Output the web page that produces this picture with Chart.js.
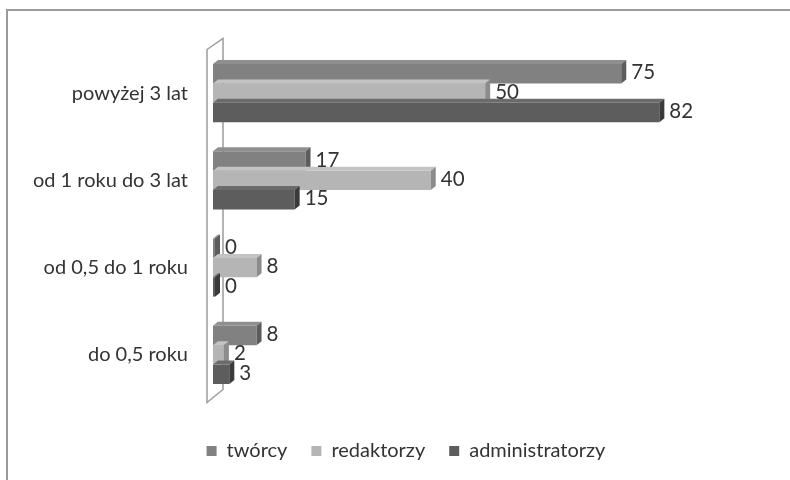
<!DOCTYPE html>
<html><head><meta charset="utf-8">
<script src="https://cdn.jsdelivr.net/npm/chart.js@4"></script>
<style>
html,body{margin:0;padding:0;background:#fff}
#wrap{position:relative;width:790px;height:480px;overflow:hidden}
#frame{position:absolute;left:6px;top:9px;right:-4px;bottom:-4px;border-top:2px solid #9a9a9a;border-left:2px solid #9a9a9a}
canvas{position:absolute;left:0;top:0}
</style></head><body>
<div id="wrap"><div id="frame"></div><canvas id="c" width="790" height="480"></canvas></div>
<script>
const categories = ['powyżej 3 lat', 'od 1 roku do 3 lat', 'od 0,5 do 1 roku', 'do 0,5 roku'];
const seriesNames = ['twórcy', 'redaktorzy', 'administratorzy'];
const tworcy = [75, 17, 0, 8];
const redaktorzy = [50, 40, 8, 2];
const administratorzy = [82, 15, 0, 3];

const frontColors = ['#818181', '#b5b5b5', '#5d5d5d'];
const sideColors = ['#5c5c5c', '#8c8c8c', '#3a3a3a'];
const topColors = ['#8f8f8f', '#c3c3c3', '#6b6b6b'];
const FONT = 'Lato, "Open Sans", sans-serif';
const TEXT = '#333333';
const DX = 5, DY = 4;

const wallPlugin = {
  id: 'wall',
  beforeDatasetsDraw(chart) {
    const a = chart.chartArea, ctx = chart.ctx;
    ctx.save();
    ctx.strokeStyle = '#9c9c9c';
    ctx.lineWidth = 1.5;
    ctx.beginPath();
    ctx.moveTo(a.left - 6, a.top);
    ctx.lineTo(a.left + 10, a.top - 11);
    ctx.lineTo(a.left + 10, a.bottom - 9);
    ctx.lineTo(a.left - 6, a.bottom + 4);
    ctx.closePath();
    ctx.stroke();
    ctx.restore();
  }
};

const depthPlugin = {
  id: 'depth',
  afterDatasetsDraw(chart) {
    const ctx = chart.ctx;
    const n = chart.data.labels.length;
    ctx.save();
    for (let i = 0; i < n; i++) {
      chart.data.datasets.forEach((ds, d) => {
        const el = chart.getDatasetMeta(d).data[i];
        const {x, y, base, height} = el.getProps(['x', 'y', 'base', 'height'], true);
        const t = y - height / 2, b = y + height / 2;
        const xe = Math.max(x, base + 2);
        ctx.fillStyle = topColors[d];
        ctx.beginPath();
        ctx.moveTo(base, t); ctx.lineTo(xe, t); ctx.lineTo(xe + DX, t - DY); ctx.lineTo(base + DX, t - DY);
        ctx.closePath(); ctx.fill();
        ctx.fillStyle = sideColors[d];
        ctx.beginPath();
        ctx.moveTo(xe, t); ctx.lineTo(xe + DX, t - DY); ctx.lineTo(xe + DX, b - DY); ctx.lineTo(xe, b);
        ctx.closePath(); ctx.fill();
        if (x <= base + 0.5) {
          ctx.fillStyle = frontColors[d];
          ctx.fillRect(base, t, 2, height);
        }
      });
    }
    ctx.font = '20.5px ' + FONT;
    ctx.fillStyle = TEXT;
    ctx.textBaseline = 'middle';
    ctx.textAlign = 'left';
    chart.data.datasets.forEach((ds, d) => {
      chart.getDatasetMeta(d).data.forEach((el, i) => {
        const {x, y, base} = el.getProps(['x', 'y', 'base'], true);
        const xe = Math.max(x, base + 2);
        ctx.fillText(String(ds.data[i]), xe + DX + 5, y - 1);
      });
    });
    ctx.restore();
  }
};

new Chart(document.getElementById('c'), {
  type: 'bar',
  data: {
    labels: categories,
    datasets: [
      {label: seriesNames[0], data: tworcy, backgroundColor: frontColors[0]},
      {label: seriesNames[1], data: redaktorzy, backgroundColor: frontColors[1]},
      {label: seriesNames[2], data: administratorzy, backgroundColor: frontColors[2]}
    ]
  },
  options: {
    indexAxis: 'y',
    responsive: false,
    animation: false,
    barPercentage: 1,
    categoryPercentage: 0.665,
    layout: {padding: {top: 49.5, right: 0, left: 22, bottom: 9}},
    scales: {
      x: {
        min: 0, max: 106,
        grid: {display: false, drawTicks: false},
        border: {display: false},
        ticks: {display: false},
        afterFit(s) { s.height = 18.5; }
      },
      y: {
        grid: {display: false, drawTicks: false},
        border: {display: false},
        ticks: {font: {family: FONT, size: 20}, color: TEXT, padding: 25},
        afterFit(s) { s.width = 191; }
      }
    },
    plugins: {
      legend: {
        position: 'bottom',
        labels: {
          font: {family: FONT, size: 20},
          color: TEXT,
          boxWidth: 10,
          boxHeight: 10,
          padding: 24
        }
      },
      tooltip: {enabled: false}
    }
  },
  plugins: [wallPlugin, depthPlugin]
});
</script>
</body></html>
